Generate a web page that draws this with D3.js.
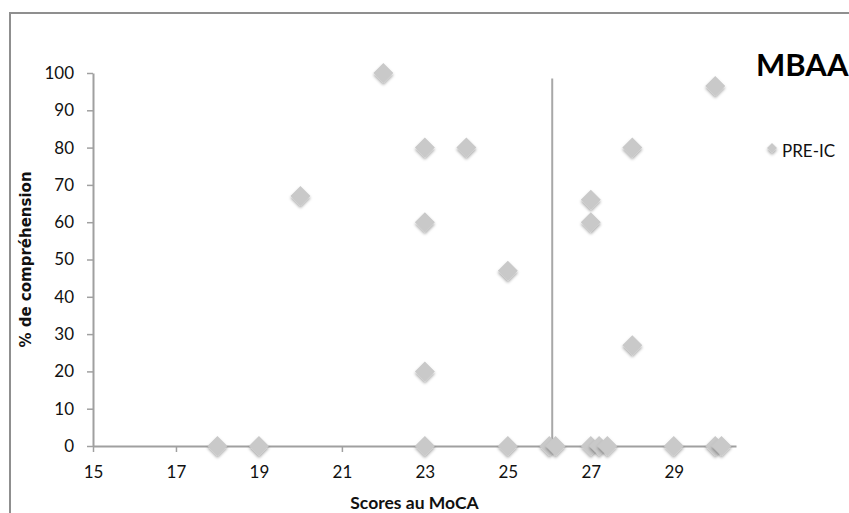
<!DOCTYPE html>
<html><head><meta charset="utf-8">
<script src="https://cdn.jsdelivr.net/npm/d3@7"></script>
<style>
html,body{margin:0;padding:0;background:#fff;overflow:hidden;}
svg{display:block;}
</style></head>
<body>
<script>
// ---- data ----
const mocaScores = [18, 19, 20, 22, 23, 24, 23, 23, 23, 25, 25, 26, 26.15, 27, 27, 27, 27.2, 27.4, 28, 28, 29, 30, 30, 30.15];
const comprehension = [0, 0, 67, 100, 80, 80, 60, 20, 0, 47, 0, 0, 0, 66, 60, 0, 0, 0, 80, 27, 0, 96.5, 0, 0];
const xTicks = [15, 17, 19, 21, 23, 25, 27, 29];
const yTicks = [0, 10, 20, 30, 40, 50, 60, 70, 80, 90, 100];
const refLineX = [26.07];
const refLineY = [0, 98.5];
const seriesName = "PRE-IC";
const chartTitle = "MBAA";
const xTitle = "Scores au MoCA";
const yTitle = "% de compréhension";

const W = 849, H = 513;
const svg = d3.select("body").append("svg").attr("width", W).attr("height", H);

const defs = svg.append("defs");
const f = defs.append("filter").attr("id", "sh").attr("x", "-50%").attr("y", "-50%").attr("width", "200%").attr("height", "200%");
f.append("feDropShadow").attr("dx", 0).attr("dy", 2).attr("stdDeviation", 1.4)
  .attr("flood-color", "#000").attr("flood-opacity", 0.35);

// frame
svg.append("rect").attr("x", 10).attr("y", 13).attr("width", W + 20).attr("height", H + 20)
  .attr("fill", "none").attr("stroke", "#8f8f8f").attr("stroke-width", 2);

const x = d3.scaleLinear().domain([15, 30.5]).range([93, 736]);
const y = d3.scaleLinear().domain([0, 100]).range([446, 73]);

const axisColor = "#a0a0a0";
const tickFont = "Lato, 'Open Sans', sans-serif";

const xAxis = svg.append("g").attr("transform", `translate(0,${y(0)})`)
  .call(d3.axisBottom(x).tickValues(xTicks).tickSizeInner(6).tickSizeOuter(0).tickPadding(14).tickFormat(d3.format("d")));
const yAxis = svg.append("g").attr("transform", `translate(${x(15)},0)`)
  .call(d3.axisLeft(y).tickValues(yTicks).tickSizeInner(6).tickSizeOuter(0).tickPadding(13).tickFormat(d3.format("d")));

[xAxis, yAxis].forEach(g => {
  g.select(".domain").attr("stroke", axisColor).attr("stroke-width", 2);
  g.selectAll(".tick line").attr("stroke", axisColor).attr("stroke-width", 1.5);
  g.selectAll(".tick text").attr("fill", "#111").style("font-family", tickFont).style("font-size", "17px");
});

// reference vertical line
svg.append("line")
  .attr("x1", x(refLineX[0])).attr("x2", x(refLineX[0]))
  .attr("y1", y(refLineY[0])).attr("y2", y(refLineY[1]))
  .attr("stroke", "#a8a8a8").attr("stroke-width", 2);

// points
const pts = mocaScores.map((m, i) => ({ m, c: comprehension[i] }));
const r = 10;
const diamond = `M0,${-r}L${r},0L0,${r}L${-r},0Z`;
svg.append("g").selectAll("path").data(pts).join("path")
  .attr("d", diamond)
  .attr("transform", d => `translate(${x(d.m)},${y(d.c)})`)
  .attr("fill", "#c9c9c9")
  .attr("filter", "url(#sh)");

// axis titles
svg.append("text").attr("x", (x(15) + x(30.5)) / 2).attr("y", 509)
  .attr("text-anchor", "middle").style("font-family", tickFont).style("font-weight", "bold")
  .style("font-size", "17.5px").attr("fill", "#111").text(xTitle);

svg.append("text").attr("transform", `translate(31,${(y(0) + y(100)) / 2}) rotate(-90)`)
  .attr("text-anchor", "middle").style("font-family", "'DejaVu Sans', sans-serif").style("font-weight", "bold")
  .style("font-size", "15px").attr("fill", "#111").text(yTitle);

// title
svg.append("text").attr("x", 756).attr("y", 76)
  .style("font-family", tickFont).style("font-weight", "bold").style("font-size", "31px")
  .attr("fill", "#000").text(chartTitle);

// legend
const lr = 5;
svg.append("path").attr("d", `M0,${-lr}L${lr},0L0,${lr}L${-lr},0Z`)
  .attr("transform", `translate(772,148)`).attr("fill", "#c9c9c9").attr("filter", "url(#sh)");
svg.append("text").attr("x", 782).attr("y", 156.5)
  .style("font-family", tickFont).style("font-size", "17px").attr("fill", "#111").text(seriesName);
</script>
</body></html>
